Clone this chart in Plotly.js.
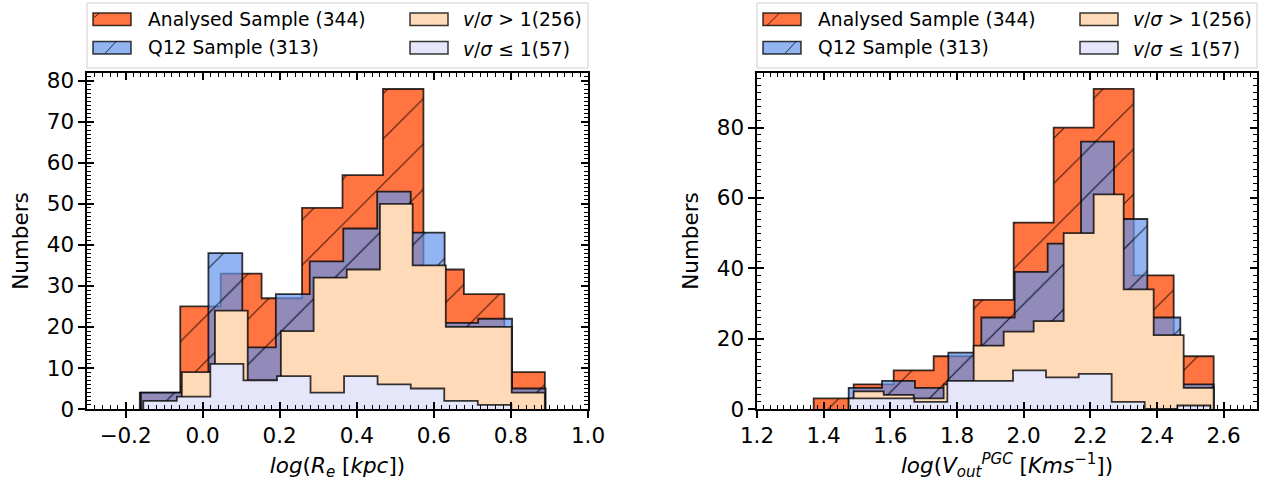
<!DOCTYPE html>
<html><head><meta charset="utf-8">
<script src="https://cdn.plot.ly/plotly-3.0.1.min.js"></script>
<style>html,body{margin:0;padding:0;background:#fff;}#chart{width:1271px;height:492px;}</style>
</head><body><div id="chart"></div>
<script>
// ---------- DATA ----------
// Left panel: log(Re [kpc])
const reAnalysedEdges = [-0.163, -0.058, 0.047, 0.153, 0.258, 0.363, 0.468, 0.573, 0.678, 0.783, 0.888];
const reAnalysedCounts = [4, 25, 33, 27, 49, 57, 78, 34, 28, 9];
const reQ12Edges = [-0.160, -0.073, 0.015, 0.103, 0.190, 0.278, 0.365, 0.453, 0.540, 0.628, 0.715, 0.803, 0.890];
const reQ12Counts = [4, 4, 38, 15, 28, 36, 44, 53, 43, 21, 22, 5];
const reRotEdges = [-0.054, 0.032, 0.117, 0.203, 0.288, 0.374, 0.460, 0.545, 0.631, 0.716, 0.802, 0.888];
const reRotCounts = [9, 24, 7, 19, 32, 34, 50, 35, 20, 20, 4];
const reDispEdges = [-0.154, -0.067, 0.020, 0.106, 0.193, 0.280, 0.367, 0.454, 0.540, 0.627, 0.714, 0.801];
const reDispCounts = [2, 3, 11, 7, 8, 4, 8, 6, 5, 2, 1];

// Right panel: log(V_out^PGC [km/s])
const vAnalysedEdges = [1.37, 1.49, 1.61, 1.73, 1.85, 1.97, 2.09, 2.21, 2.33, 2.45, 2.57];
const vAnalysedCounts = [3, 7, 11, 15, 31, 53, 80, 91, 38, 15];
const vQ12Edges = [1.475, 1.575, 1.674, 1.774, 1.873, 1.973, 2.072, 2.172, 2.271, 2.371, 2.470, 2.570];
const vQ12Counts = [6, 8, 6, 16, 26, 39, 47, 76, 54, 26, 7];
const vRotEdges = [1.49, 1.58, 1.67, 1.76, 1.85, 1.94, 2.03, 2.12, 2.21, 2.30, 2.39, 2.48, 2.57];
const vRotCounts = [5, 4, 3, 7, 18, 22, 25, 50, 61, 34, 21, 6];
const vDispEdges = [1.475, 1.574, 1.672, 1.771, 1.870, 1.968, 2.067, 2.165, 2.264, 2.363, 2.461, 2.560];
const vDispCounts = [3, 3, 2, 8, 8, 11, 9, 10, 2, 0, 1];

const legendLabels = ['Analysed Sample (344)', 'Q12 Sample (313)', '<i>v</i>/<i>σ</i> &gt; 1(256)', '<i>v</i>/<i>σ</i> ≤ 1(57)'];

// ---------- STYLE ----------
const FONT = 'DejaVu Sans, sans-serif';
const C_AN = 'rgba(255,69,0,0.75)';
const C_Q12 = 'rgba(100,149,237,0.7)';
const C_ROT = 'rgb(255,218,185)';
const C_DISP = 'rgb(230,230,250)';
const EDGE = 'rgba(0,0,0,0.78)';

function stepXY(edges, counts) {
  const x = [edges[0]], y = [0];
  for (let i = 0; i < counts.length; i++) { x.push(edges[i]); y.push(counts[i]); }
  const last = edges[edges.length - 1];
  x.push(last); y.push(counts[counts.length - 1]);
  x.push(last); y.push(0);
  return {x, y};
}
function hist(edges, counts, xa, ya, color, hatch) {
  const s = stepXY(edges, counts);
  const t = {type: 'scatter', mode: 'lines', x: s.x, y: s.y, xaxis: xa, yaxis: ya,
    line: {shape: 'hv', color: EDGE, width: 1.8}, fill: 'toself', fillcolor: color,
    showlegend: false, hoverinfo: 'skip'};
  if (hatch) t.fillpattern = {shape: '/', size: 32, solidity: 0.035, fgcolor: '#000', fgopacity: 0.75, bgcolor: color, fillmode: 'replace'};
  return t;
}

const traces = [
  hist(reAnalysedEdges, reAnalysedCounts, 'x', 'y', C_AN, true),
  hist(reQ12Edges, reQ12Counts, 'x', 'y', C_Q12, true),
  hist(reRotEdges, reRotCounts, 'x', 'y', C_ROT, false),
  hist(reDispEdges, reDispCounts, 'x', 'y', C_DISP, false),
  hist(vAnalysedEdges, vAnalysedCounts, 'x2', 'y2', C_AN, true),
  hist(vQ12Edges, vQ12Counts, 'x2', 'y2', C_Q12, true),
  hist(vRotEdges, vRotCounts, 'x2', 'y2', C_ROT, false),
  hist(vDispEdges, vDispCounts, 'x2', 'y2', C_DISP, false),
  // empty traces that make the tick-only overlay axes exist
  {type: 'scatter', x: [], y: [], xaxis: 'x3', yaxis: 'y3', showlegend: false, hoverinfo: 'skip'},
  {type: 'scatter', x: [], y: [], xaxis: 'x4', yaxis: 'y4', showlegend: false, hoverinfo: 'skip'}
];

// plot area in pixels
const PL = 87, PR = 1257, PT = 73, PB = 409;
const px2x = p => (p - PL) / (PR - PL);
const py2y = p => (PB - p) / (PB - PT);
const leftDom = [0, px2x(588)], rightDom = [px2x(757), 1];

const tickFont = {family: FONT, size: 21.5, color: '#000'};
function mainAxis(dom, range, dtick, anchor, titleText, isY) {
  return {domain: dom, range: range, dtick: dtick, tick0: 0, anchor: anchor,
    ticks: 'outside', ticklen: 7, tickwidth: 2, tickcolor: '#000',
    showline: true, linecolor: '#000', linewidth: 1.6, mirror: true,
    showgrid: false, zeroline: false, tickfont: tickFont, automargin: false,
    tickformat: isY ? 'd' : '.1f', fixedrange: true,
    title: {text: titleText, font: {family: FONT, size: 21.5, color: '#000'}, standoff: isY ? 12 : 10}};
}
function overlayAxis(over, anchor, range, dtick, minorDtick, dom) {
  return {overlaying: over, anchor: anchor, range: range, dtick: dtick, tick0: 0, domain: dom,
    ticks: 'inside', ticklen: 7, tickwidth: 2, tickcolor: '#000', mirror: 'ticks',
    showticklabels: false, showline: false, showgrid: false, zeroline: false, automargin: false,
    minor: {ticks: 'inside', ticklen: 4, tickwidth: 1, tickcolor: '#000', dtick: minorDtick, tick0: 0, showgrid: false}};
}

const layout = {
  width: 1271, height: 492, paper_bgcolor: '#fff', plot_bgcolor: '#fff',
  margin: {l: PL, r: 1271 - PR, t: PT, b: 492 - PB, pad: 0},
  showlegend: false, font: {family: FONT, color: '#000', size: 18.7},
  xaxis: mainAxis(leftDom, [-0.3, 1.0], 0.2, 'y', '<i>log</i>(<i>R</i><sub><i>e</i></sub> [<i>kpc</i>])', false),
  yaxis: mainAxis([0, 1], [0, 81.9], 10, 'x', 'Numbers', true),
  xaxis2: mainAxis(rightDom, [1.2, 2.7], 0.2, 'y2', '<i>log</i>(<i>V</i><sub><i>out</i></sub><sup><i>PGC</i></sup> [<i>Kms</i><sup>−1</sup>])', false),
  yaxis2: mainAxis([0, 1], [0, 95.5], 20, 'x2', 'Numbers', true),
  xaxis3: overlayAxis('x', 'y', [-0.3, 1.0], 0.2, 0.02, leftDom),
  yaxis3: overlayAxis('y', 'x', [0, 81.9], 10, 1, [0, 1]),
  xaxis4: overlayAxis('x2', 'y2', [1.2, 2.7], 0.2, 0.02, rightDom),
  yaxis4: overlayAxis('y2', 'x2', [0, 95.5], 20, 2, [0, 1]),
  shapes: [], annotations: []
};

// Legend boxes (drawn by hand to mimic the two-column framed legend)
const handleColors = [C_AN, C_Q12, C_ROT, C_DISP];
function addLegend(boxL, boxR, hatchSegs) {
  const ref = {xref: 'paper', yref: 'paper'};
  layout.shapes.push(Object.assign({type: 'rect', x0: px2x(boxL), x1: px2x(boxR), y0: py2y(68), y1: py2y(3),
    line: {color: '#cfcfcf', width: 1}, fillcolor: 'rgba(255,255,255,0.8)'}, ref));
  const cols = [boxL + 6, boxL + 323];
  const textX = [boxL + 59, boxL + 374];
  const rowsTop = [13, 41.5], rowsMid = [19.5, 47.5];
  for (let i = 0; i < 4; i++) {
    const c = Math.floor(i / 2), r = i % 2;
    layout.shapes.push(Object.assign({type: 'rect', x0: px2x(cols[c]), x1: px2x(cols[c] + 38),
      y0: py2y(rowsTop[r] + 12.5), y1: py2y(rowsTop[r]), fillcolor: handleColors[i],
      line: {color: EDGE, width: 1.5}}, ref));
    layout.annotations.push({xref: 'paper', yref: 'paper', x: px2x(textX[c]), y: py2y(rowsMid[r] + (c === 1 && r === 1 ? 1.5 : 0)),
      xanchor: 'left', yanchor: 'middle', showarrow: false, text: legendLabels[i],
      font: {family: FONT, size: 18.7, color: '#000'}});
  }
  hatchSegs.forEach(sg => layout.shapes.push(Object.assign({type: 'line', x0: px2x(sg[0]), y0: py2y(sg[1]),
    x1: px2x(sg[2]), y1: py2y(sg[3]), line: {color: 'rgba(0,0,0,0.75)', width: 1}}, ref)));
}
addLegend(87, 588, [[94, 17.5, 99, 13.5], [105, 53.5, 116, 41.5]]);
addLegend(757, 1257, [[767, 25.5, 779, 13.5], [785, 53.5, 796, 41.5]]);

Plotly.newPlot('chart', traces, layout, {staticPlot: true, displayModeBar: false});
</script>
</body></html>
